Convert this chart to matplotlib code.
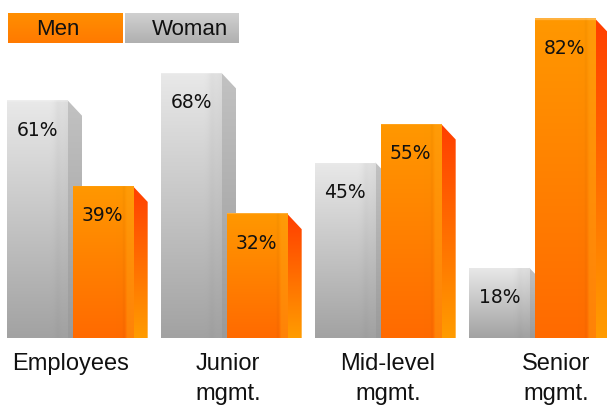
import numpy as np
import matplotlib
matplotlib.use("Agg")
import matplotlib.pyplot as plt
from matplotlib.patches import Polygon, Rectangle
from matplotlib.colors import to_rgb

# Data
categories = ["Employees", "Junior\nmgmt.", "Mid-level\nmgmt.", "Senior\nmgmt."]
women = [61, 68, 45, 18]
men = [39, 32, 55, 82]
series_names = ["Men", "Woman"]

W, H = 607, 408
fig = plt.figure(figsize=(W / 100, H / 100), dpi=100)

base_px = 338          # pixel row of the bar baseline
px_per_unit = 3.9      # vertical pixels per percentage point
group_px = 154         # horizontal pixels between groups
first_px = 70          # pixel column of the first group centre

ax = fig.add_axes([0, (H - base_px) / H, 1, base_px / H])
ax.set_xlim(-first_px / group_px, (W - first_px) / group_px)
ax.set_ylim(0, base_px / px_per_unit)
ax.axis("off")

x = np.arange(len(categories))
width = 0.39
off = 0.212
depth_x = 15 / group_px
depth_y = 16 / px_per_unit


def gradient(top, bottom, n=300, m=60, band=None, band_col=None, stripe=None,
             bevel=False):
    t = np.linspace(0, 1, n)[:, None, None]
    img = (1 - t) * np.array(to_rgb(top)) + t * np.array(to_rgb(bottom))
    img = np.repeat(img, m, axis=1)
    u = np.linspace(0, 1, m)[None, :, None]
    if band is not None:
        a0, a1, alpha = band
        w = np.clip((u - a0) / max(a1 - a0, 1e-6), 0, 1) * alpha
        img = img * (1 - w) + np.array(to_rgb(band_col)) * w
    if stripe is not None:
        c, s, amt = stripe
        w = np.exp(-((u - c) / s) ** 2) * amt
        img = img * (1 - w)
    if bevel:
        # faint light rim along the top edge
        img[:2] = img[:2] * 0.75 + 0.25
    return np.clip(img, 0, 1)


def fill_patch(patch, img, extent, z):
    patch.set_facecolor("none")
    patch.set_edgecolor("none")
    patch.set_zorder(z)
    if patch.axes is None:
        ax.add_patch(patch)
    im = ax.imshow(img, extent=extent, aspect="auto", origin="upper",
                   interpolation="bilinear", zorder=z)
    im.set_clip_path(patch)


def draw_series(xs, values, front, side, z):
    bars = ax.bar(xs, values, width, zorder=z)
    for rect, v in zip(bars, values):
        x0 = rect.get_x()
        x1 = x0 + rect.get_width()
        h = rect.get_height()
        # side face
        poly = Polygon([(x1, h), (x1 + depth_x, h - depth_y),
                        (x1 + depth_x, 0), (x1, 0)], closed=True)
        fill_patch(poly, gradient(*side), (x1, x1 + depth_x, 0, h), z - 0.05)
        # front face
        fill_patch(rect, gradient(front[0], front[1], band=front[2],
                                  band_col=front[3], stripe=front[4], bevel=True),
                   (x0, x1, 0, h), z)
        ax.annotate(f"{v}%", (x0 + rect.get_width() / 2, h), xytext=(0, -30),
                    textcoords="offset pixels", ha="center", va="center",
                    fontsize=13.5, family="DejaVu Sans", color="#111111",
                    zorder=z + 1)


gray_front = ("#e9e9e9", "#a2a2a2", (0.7, 1.0, 0.15), "#9a9a9a", (0.84, 0.05, 0.02))
gray_side = ("#c2c2c2", "#9a9a9a")
orange_front = ("#ff9800", "#ff6a00", (0.86, 0.9, 0.45), "#ffa010", (0.84, 0.02, 0.03))
orange_side = ("#ff3e00", "#ff9c00")

draw_series(x - off, women, gray_front, gray_side, 2)
draw_series(x + off, men, orange_front, orange_side, 3)

# Category labels under each group
label_px = [71, 228, 388, 556]
xt = ax.get_xaxis_transform()
for cat, lp in zip(categories, label_px):
    for i, line in enumerate(cat.split("\n")):
        y_px = 370 + 30 * i
        ax.text((lp - first_px) / group_px, (base_px - y_px) / base_px, line,
                transform=xt, ha="center", va="baseline", fontsize=17,
                family="Liberation Sans", color="#111111", clip_on=False)

# Legend strip
lax = fig.add_axes([0, 0, 1, 1], zorder=5)
lax.set_xlim(0, W)
lax.set_ylim(H, 0)
lax.axis("off")
lax.patch.set_alpha(0)

legend_boxes = [(8, 115, ("#ff8e00", "#ff7a00")), (125, 114, ("#d0d0d0", "#b0b0b0"))]
legend_text_x = [58, 190]
for name, (bx, bw, cols), tx in zip(series_names, legend_boxes, legend_text_x):
    r = Rectangle((bx, 13), bw, 30, facecolor="none", edgecolor="none")
    lax.add_patch(r)
    t = np.linspace(0, 1, 32)[:, None, None]
    img = (1 - t) * np.array(to_rgb(cols[0])) + t * np.array(to_rgb(cols[1]))
    img = np.repeat(img, 8, axis=1)
    im = lax.imshow(img, extent=(bx, bx + bw, 43, 13), aspect="auto",
                    interpolation="bilinear")
    im.set_clip_path(r)
    lax.text(tx, 35, name, ha="center", va="baseline", fontsize=16,
             family="Liberation Sans", color="#111111")

lax.set_xlim(0, W)
lax.set_ylim(H, 0)

fig.savefig("out.png", dpi=100)
